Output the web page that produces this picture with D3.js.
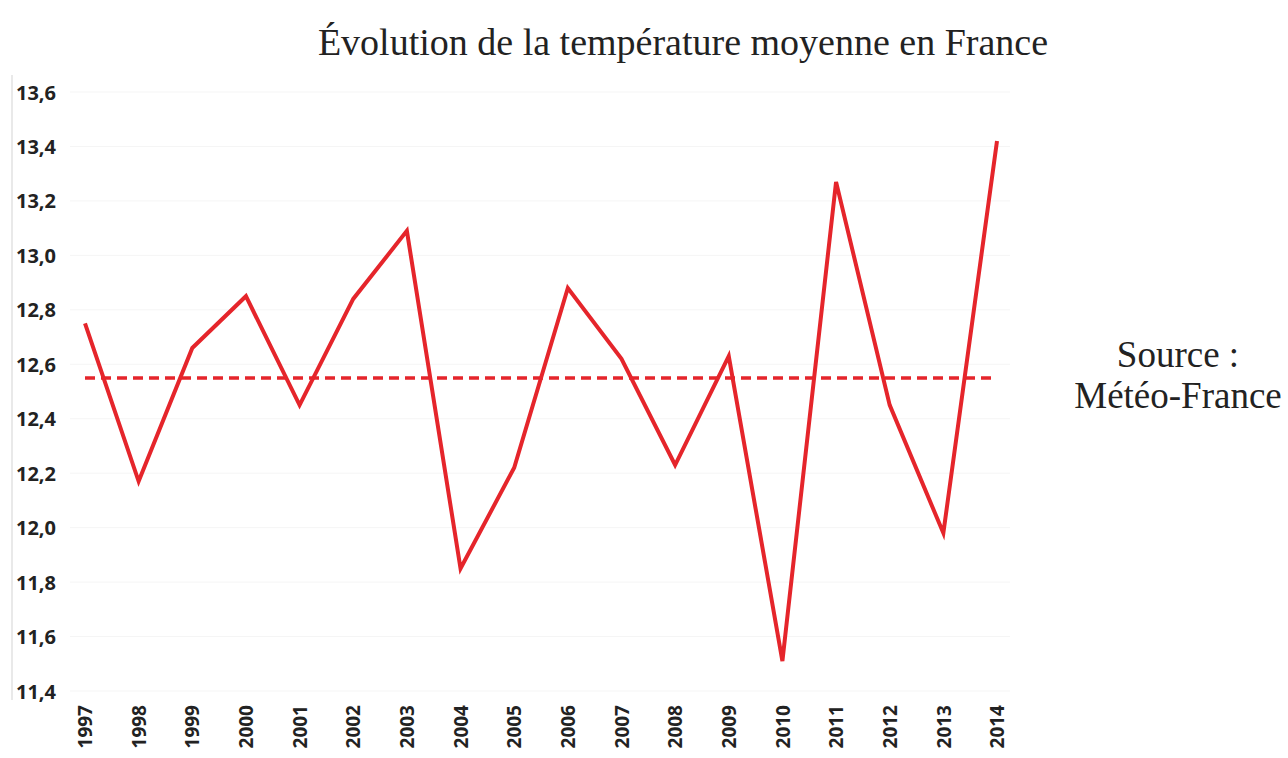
<!DOCTYPE html>
<html>
<head>
<meta charset="utf-8">
<script src="https://cdn.jsdelivr.net/npm/d3@7"></script>
<style>
html,body{margin:0;padding:0;background:#fff;}
svg{display:block;}
</style>
</head>
<body>
<svg id="chart" width="1288" height="758"></svg>
<script>
const years = ["1997","1998","1999","2000","2001","2002","2003","2004","2005","2006","2007","2008","2009","2010","2011","2012","2013","2014"];
const temperatures = [12.75,12.17,12.66,12.85,12.45,12.84,13.09,11.85,12.22,12.88,12.62,12.23,12.63,11.51,13.27,12.45,11.98,13.42];
const averageValue = [12.55];
const yTicks = [11.4,11.6,11.8,12.0,12.2,12.4,12.6,12.8,13.0,13.2,13.4,13.6];
const titleText = "Évolution de la température moyenne en France";
const sourceLines = ["Source :", "Météo-France"];

const svg = d3.select("#chart");
const x = d3.scalePoint().domain(years).range([85, 997]);
const y = d3.scaleLinear().domain([11.4, 13.6]).range([691, 92]);

// faint grid
svg.append("g").selectAll("line").data(yTicks).join("line")
  .attr("x1", 70).attr("x2", 1010)
  .attr("y1", d => y(d)).attr("y2", d => y(d))
  .attr("stroke", "#f5f5f5").attr("stroke-width", 1);

// faint left border
svg.append("line").attr("x1", 12).attr("x2", 12).attr("y1", 75).attr("y2", 700)
  .attr("stroke", "#e2e2e2").attr("stroke-width", 1.5);

// y axis
const yAxis = d3.axisLeft(y).tickValues(yTicks).tickSize(0)
  .tickFormat(d => d3.format(".1f")(d).replace(".", ","));
const gy = svg.append("g").attr("transform", "translate(16,0)").call(yAxis);
gy.select(".domain").remove();
gy.selectAll("text").attr("text-anchor", "start").attr("x", 0).attr("dy", "0.35em")
  .style("font-family", "'Open Sans', sans-serif").style("font-weight", "700")
  .style("font-size", "20px").attr("fill", "#222");

// x axis
const xAxis = d3.axisBottom(x).tickSize(0);
const gx = svg.append("g").attr("transform", "translate(0,700)").call(xAxis);
gx.select(".domain").remove();
gx.selectAll("text")
  .attr("transform", "rotate(-90)")
  .attr("text-anchor", "end").attr("x", -5).attr("y", 0).attr("dy", "0.35em")
  .style("font-family", "'Open Sans', sans-serif").style("font-weight", "700")
  .style("font-size", "19px").attr("fill", "#222");

// average dashed line
svg.append("line")
  .attr("x1", x(years[0])).attr("x2", x(years[years.length-1]))
  .attr("y1", y(averageValue[0])).attr("y2", y(averageValue[0]))
  .attr("stroke", "#e5252b").attr("stroke-width", 3.5)
  .attr("stroke-dasharray", "10,6");

// data line
const line = d3.line().x((d,i) => x(years[i])).y(d => y(d));
svg.append("path").datum(temperatures)
  .attr("d", line).attr("fill", "none")
  .attr("stroke", "#e5252b").attr("stroke-width", 4)
  .attr("stroke-linejoin", "miter");

// title
svg.append("text").attr("x", 683).attr("y", 55).attr("text-anchor", "middle")
  .style("font-family", "'Liberation Serif', 'Times New Roman', serif")
  .style("font-size", "38px").attr("fill", "#222").text(titleText);

// source
svg.append("g").selectAll("text").data(sourceLines).join("text")
  .attr("x", 1178).attr("y", (d,i) => 367 + i*41).attr("text-anchor", "middle")
  .style("font-family", "'Liberation Serif', 'Times New Roman', serif")
  .style("font-size", "37px").attr("fill", "#222").text(d => d);
</script>
</body>
</html>
